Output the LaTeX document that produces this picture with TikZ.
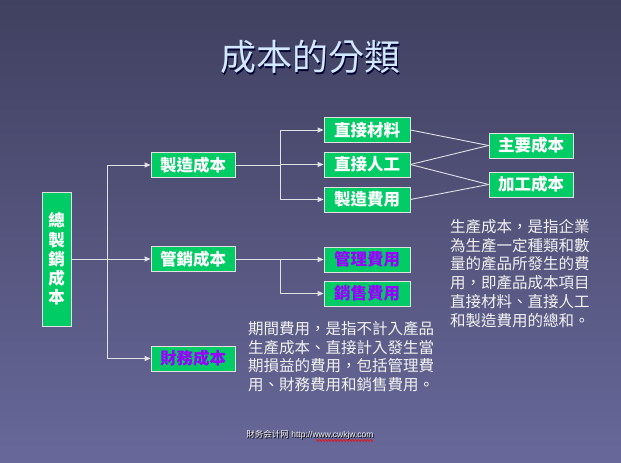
\documentclass[tikz,border=0pt]{standalone}
\usepackage{fontspec}
\setmainfont{Liberation Sans}
\newfontfamily\cjk{Noto Sans CJK TC}
\usetikzlibrary{arrows.meta,decorations.pathmorphing}
\definecolor{bgtop}{RGB}{64,64,96}
\definecolor{bgbot}{RGB}{104,104,154}
\definecolor{boxgreen}{RGB}{0,204,102}
\definecolor{boxline}{RGB}{225,225,225}
\definecolor{linecol}{RGB}{225,225,230}
\definecolor{purp}{RGB}{153,0,255}
\definecolor{titlecol}{RGB}{210,232,255}
\definecolor{txtcol}{RGB}{242,242,242}
\tikzset{
  box/.style={draw=boxline, line width=0.8pt, fill=boxgreen, minimum width=84pt,
    minimum height=25pt, inner sep=0pt, text=white,
    font=\cjk\bfseries\fontsize{16.5}{19}\selectfont},
  wbox/.style={box, minimum width=86pt},
  ptxt/.style={text=purp},
  conn/.style={draw=linecol, line width=1pt},
  arr/.style={conn, -{Triangle[length=6pt,width=5pt]}},
  para/.style={align=left, anchor=north west, inner sep=0pt, text=txtcol,
    font=\cjk\fontsize{15.5}{18.8}\selectfont},
}
\begin{document}
\begin{tikzpicture}[x=1pt,y=-1pt]
\shade[top color=bgtop,bottom color=bgbot] (0,0) rectangle (621,463);
\useasboundingbox (0,0) rectangle (621,463);

% title
\node[text=black!80!blue, font=\cjk\fontsize{36}{40}\selectfont] (titleshadow) at (311.5,58.5) {成本的分類};
\node[text=titlecol, font=\cjk\fontsize{36}{40}\selectfont] (title) at (310,57) {成本的分類};

% nodes
\node[box, minimum width=29pt, minimum height=134pt, align=center,
  font=\cjk\bfseries\fontsize{16.5}{19.2}\selectfont] (tot) at (56.5,259) {總\\製\\銷\\成\\本};
\node[box] (mfg) at (193,165) {製造成本};
\node[box] (sga) at (193,259) {管銷成本};
\node[box, ptxt] (fin) at (193,358.5) {財務成本};
\node[wbox] (dm) at (367,130) {直接材料};
\node[wbox] (dl) at (367,164.5) {直接人工};
\node[wbox] (moh) at (367,199.5) {製造費用};
\node[wbox, ptxt] (adm) at (367,259.5) {管理費用};
\node[wbox, ptxt] (sell) at (367,293.5) {銷售費用};
\node[box] (prime) at (531,145.5) {主要成本};
\node[box] (conv) at (531,184.5) {加工成本};

% trunks
\coordinate (j1) at (107,0);
\coordinate (j2) at (280,0);
\draw[conn] (tot.east) -- (j1 |- tot.east);
\draw[conn] (j1 |- mfg) -- (j1 |- fin);
\draw[arr] (j1 |- mfg) -- (mfg.west);
\draw[arr] (j1 |- sga) -- (sga.west);
\draw[arr] (j1 |- fin) -- (fin.west);

\draw[conn] (mfg.east) -- (j2 |- mfg);
\draw[conn] (j2 |- dm) -- (j2 |- moh);
\draw[arr] (j2 |- dm) -- (dm.west);
\draw[arr] (j2 |- dl) -- (dl.west);
\draw[arr] (j2 |- moh) -- (moh.west);

\draw[conn] (sga.east) -- (j2 |- sga);
\draw[conn] (j2 |- adm) -- (j2 |- sell);
\draw[arr] (j2 |- adm) -- (adm.west);
\draw[arr] (j2 |- sell) -- (sell.west);

% cost combinations
\draw[conn, line width=0.9pt] (dm.east) -- (prime.west);
\draw[conn, line width=0.9pt] (dl.east) -- (prime.west);
\draw[conn, line width=0.9pt] (dl.east) -- (conv.west);
\draw[conn, line width=0.9pt] (moh.east) -- (conv.west);

% paragraphs
\node[para] (prodtxt) at (450,219) {生產成本，是指企業\\為生產一定種類和數\\量的產品所發生的費\\用，即產品成本項目\\直接材料、直接人工\\和製造費用的總和。};
\node[para] (pertxt) at (248,321) {期間費用，是指不計入產品\\生產成本、直接計入發生當\\期損益的費用，包括管理費\\用、財務費用和銷售費用。};

% footer
\node[text=black, font=\fontsize{8.5}{10}\selectfont] (footshadow) at (310.8,435.8) {{\cjk 財务会计网} http://www.cwkjw.com};
\node[text=txtcol, font=\fontsize{8.5}{10}\selectfont] (foot) at (310,435) {{\cjk 財务会计网} http://www.cwkjw.com};
\draw[red, line width=0.5pt, decorate, decoration={zigzag, amplitude=1.1pt, segment length=3pt}] (316,440.5) -- (373,440.5);
\end{tikzpicture}
\end{document}
